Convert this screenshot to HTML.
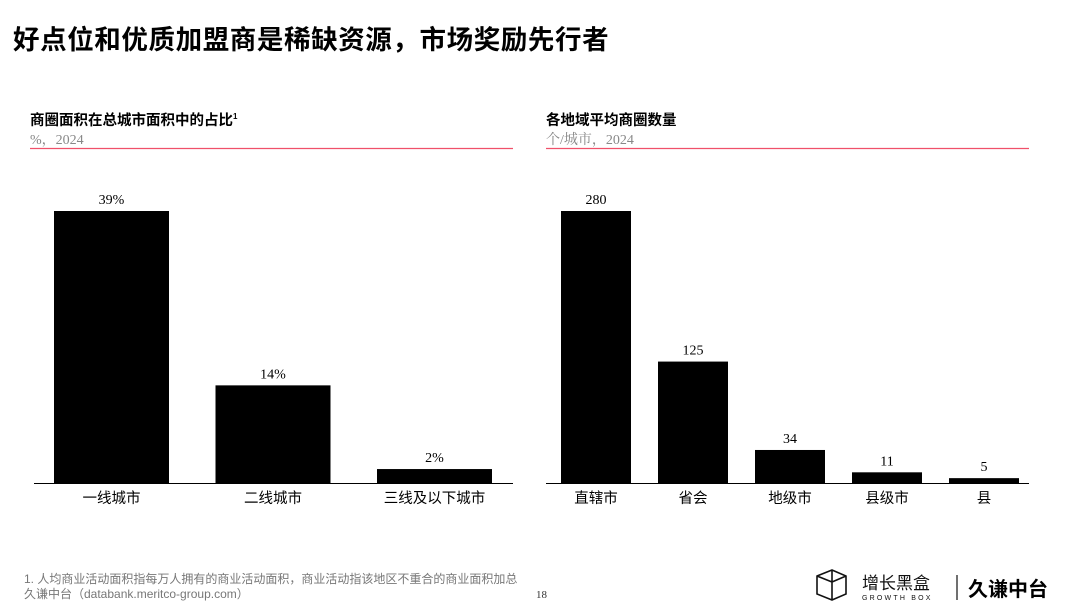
<!DOCTYPE html>
<html><head><meta charset="utf-8"><style>
body{margin:0;width:1080px;height:607px;background:#fff;overflow:hidden;font-family:"Liberation Sans","Noto Sans CJK SC",sans-serif}
svg text{font-family:"Liberation Sans","Noto Sans CJK SC",sans-serif}
.serif{font-family:"Liberation Serif","Noto Serif CJK SC",serif}
</style></head><body>
<svg id="s" width="1080" height="607" xmlns="http://www.w3.org/2000/svg">
<text x="13" y="49" font-size="26.5" font-weight="bold" letter-spacing="0.6" fill="#000">好点位和优质加盟商是稀缺资源，市场奖励先行者</text>
<text x="30" y="125" font-size="14.5" font-weight="bold">商圈面积在总城市面积中的占比<tspan font-size="8" dy="-6">1</tspan></text>
<text x="30" y="144" font-size="14" fill="#888" class="serif">%，2024</text>
<line x1="30" y1="148.5" x2="513" y2="148.5" stroke="#f0506a" stroke-width="1.3"/>
<text x="546" y="125" font-size="14.5" font-weight="bold">各地域平均商圈数量</text>
<text x="546" y="144" font-size="14" fill="#888" class="serif">个/城市，2024</text>
<line x1="546" y1="148.5" x2="1029" y2="148.5" stroke="#f0506a" stroke-width="1.3"/>
<g id="left"></g><g id="right"></g>
<text x="24" y="583" font-size="12" fill="#777">1. 人均商业活动面积指每万人拥有的商业活动面积，商业活动指该地区不重合的商业面积加总</text>
<text x="24" y="598" font-size="12" fill="#777">久谦中台（databank.meritco-group.com）</text>
<text x="536" y="598" font-size="11" fill="#333" class="serif">18</text>
<g>
<path d="M817 576 L832 570 L846 576 L846 594 L832 600 L817 594 Z M832 570 L832 600 M817 576 L832 582 L846 576" fill="none" stroke="#111" stroke-width="1.6"/>
<text x="862" y="589" font-size="17" fill="#111">增长黑盒</text>
<text x="862" y="600" font-size="7" letter-spacing="2.2" fill="#111">GROWTH BOX</text>
</g>
<line x1="957" y1="575" x2="957" y2="600" stroke="#111" stroke-width="1.2"/>
<text x="968" y="596" font-size="20" font-weight="bold" fill="#000">久谦中台</text>
</svg>
<script>
const leftCats=["一线城市","二线城市","三线及以下城市"];
const leftVals=[39,14,2];
const leftLabels=["39%","14%","2%"];
const rightCats=["直辖市","省会","地级市","县级市","县"];
const rightVals=[280,125,34,11,5];
const rightLabels=["280","125","34","11","5"];
const NS="http://www.w3.org/2000/svg";
function mk(t,a,p){const e=document.createElementNS(NS,t);for(const k in a)e.setAttribute(k,a[k]);p.appendChild(e);return e;}
function chart(gid,cats,vals,labels,x0,x1,first,pitch,bw,scale,pfx){
 const g=document.getElementById(gid);const base=483;
 const ax=mk("line",{x1:x0,y1:base+0.5,x2:x1,y2:base+0.5,stroke:"#000","stroke-width":1},g);
 
 
 cats.forEach((c,i)=>{
  const x=first+i*pitch;const h=vals[i]*scale;
  const r=mk("rect",{x:x,y:base-h,width:bw,height:h,fill:"#000"},g);
  
  
  const v=mk("text",{x:x+bw/2,y:base-h-7,"text-anchor":"middle","font-size":14,class:"serif"},g);v.textContent=labels[i];
  
  
  const l=mk("text",{x:x+bw/2,y:503,"text-anchor":"middle","font-size":14.5},g);l.textContent=c;
  
  
 });
}
chart("left",leftCats,leftVals,leftLabels,34,513,54,161.5,115,272/39,"left");
chart("right",rightCats,rightVals,rightLabels,546,1029,561,97,70,272/280,"right");
</script>
</body></html>
